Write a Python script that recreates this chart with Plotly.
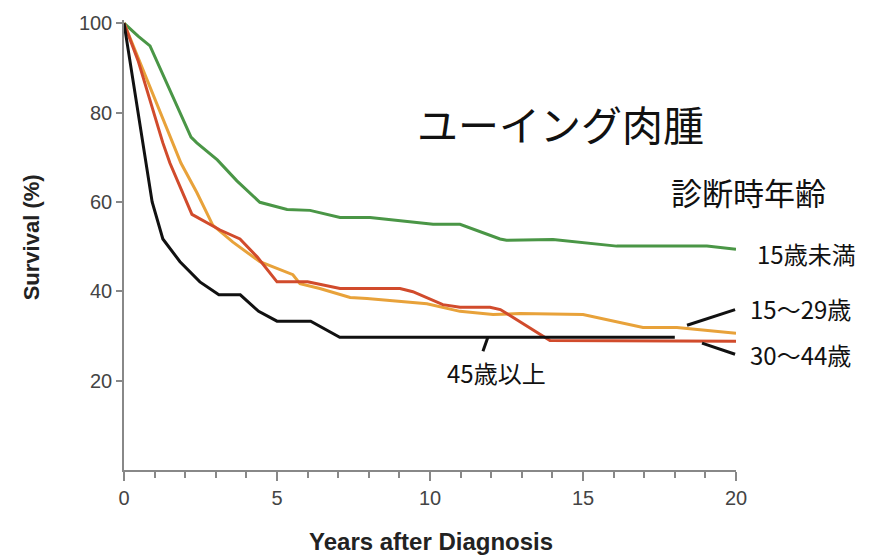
import plotly.graph_objects as go

# Survival curves (years after diagnosis, survival %)
green_t = [0, 0.46, 0.85, 1.21, 1.54, 2.19, 2.38, 3.05, 3.69, 4.44, 5.33, 6.08, 7.06, 8.04, 10.1, 10.98, 12.29, 12.5, 14.02, 16.1, 19.05, 20]
green_s = [100, 97.1, 94.9, 89.4, 84.3, 74.5, 73.2, 69.4, 64.7, 59.9, 58.3, 58.1, 56.5, 56.5, 55.0, 55.0, 51.7, 51.4, 51.6, 50.1, 50.1, 49.4]

orange_t = [0, 1.6, 1.86, 2.38, 2.9, 3.56, 4.44, 5.52, 5.75, 6.4, 7.39, 7.94, 9.9, 10.98, 12.06, 12.94, 15.0, 16.96, 18.07, 20]
orange_s = [100, 73.2, 68.7, 62.1, 54.8, 51.0, 46.6, 43.7, 41.7, 40.6, 38.6, 38.4, 37.2, 35.5, 34.8, 35.0, 34.8, 31.9, 31.9, 30.6]

red_t = [0, 0.46, 1.27, 1.5, 2.22, 3.14, 3.79, 4.35, 5.0, 6.0, 7.06, 9.02, 9.44, 10.42, 10.98, 11.96, 12.3, 13.92, 20]
red_s = [100, 91.6, 73.2, 68.7, 57.2, 53.7, 51.7, 47.7, 42.1, 42.1, 40.6, 40.6, 39.9, 37.0, 36.4, 36.4, 35.9, 29.0, 28.8]

black_t = [0, 0.35, 0.62, 0.8, 0.92, 1.27, 1.83, 2.48, 3.1, 3.8, 4.4, 5.0, 6.1, 7.05, 18.0]
black_s = [100, 85, 73.2, 66, 60, 51.7, 46.6, 42.1, 39.2, 39.2, 35.5, 33.3, 33.3, 29.7, 29.7]

series = [
    ("15歳未満", green_t, green_s, "#4a9646"),
    ("15～29歳", orange_t, orange_s, "#e8a23a"),
    ("30～44歳", red_t, red_s, "#d14b2c"),
    ("45歳以上", black_t, black_s, "#111111"),
]

x_ticks = [0, 5, 10, 15, 20]
y_ticks = [20, 40, 60, 80, 100]

fig = go.Figure()
for name, t, s, c in series:
    fig.add_trace(go.Scatter(x=t, y=s, mode="lines", name=name,
                             line=dict(color=c, width=3), showlegend=False))

jp = "Noto Sans CJK JP"
ann = [
    dict(text="ユーイング肉腫", x=0.714, y=0.772, size=41),
    dict(text="診断時年齢", x=1.020, y=0.619, size=31),
    dict(text="15歳未満", x=1.116, y=0.481, size=24),
    dict(text="15～29歳", x=1.106, y=0.359, size=24),
    dict(text="30～44歳", x=1.106, y=0.257, size=24),
    dict(text="45歳以上", x=0.609, y=0.217, size=24),
]
annotations = [dict(text=a["text"], x=a["x"], y=a["y"], xref="paper", yref="paper",
                    showarrow=False, xanchor="center", yanchor="middle",
                    font=dict(family=jp, size=a["size"], color="#111"))
               for a in ann]
annotations.append(dict(text="<b>Survival (%)</b>", x=-0.152, y=0.517, xref="paper", yref="paper",
                        showarrow=False, textangle=-90, xanchor="center", yanchor="middle",
                        font=dict(family="Liberation Sans", size=22, color="#222")))
annotations.append(dict(text="<b>Years after Diagnosis</b>", x=0.502, y=-0.158, xref="paper", yref="paper",
                        showarrow=False, xanchor="center", yanchor="middle",
                        font=dict(family="Liberation Sans", size=24, color="#222")))

pointers = [
    (18.4, 32.4, 19.97, 35.9),
    (18.89, 28.4, 19.97, 25.9),
    (11.73, 26.6, 11.9, 29.9),
]
shapes = [dict(type="line", xref="x", yref="y", x0=a, y0=b, x1=c, y1=d,
               line=dict(color="#111", width=3)) for a, b, c, d in pointers]

fig.update_layout(
    width=876, height=555,
    margin=dict(l=124, r=140, t=16, b=85),
    paper_bgcolor="white", plot_bgcolor="white",
    annotations=annotations, shapes=shapes,
    font=dict(family="Liberation Sans", color="#444", size=20),
)
fig.update_xaxes(range=[0, 20], tickvals=x_ticks, ticks="outside", ticklen=9, tickcolor="#888",
                 tickwidth=1.5, showline=True, linecolor="#888", linewidth=1.5, showgrid=False,
                 zeroline=False, minor=dict(dtick=1, ticks="outside", ticklen=6, tickcolor="#888", tickwidth=1.5),
                 tickfont=dict(size=20, color="#444"))
fig.update_yaxes(range=[0, 100.7], tickvals=y_ticks, ticks="outside", ticklen=6, tickcolor="#888",
                 tickwidth=1.5, showline=True, linecolor="#888", linewidth=1.5, showgrid=False,
                 zeroline=False, tickfont=dict(size=20, color="#444"))

fig.write_html("out.html")
